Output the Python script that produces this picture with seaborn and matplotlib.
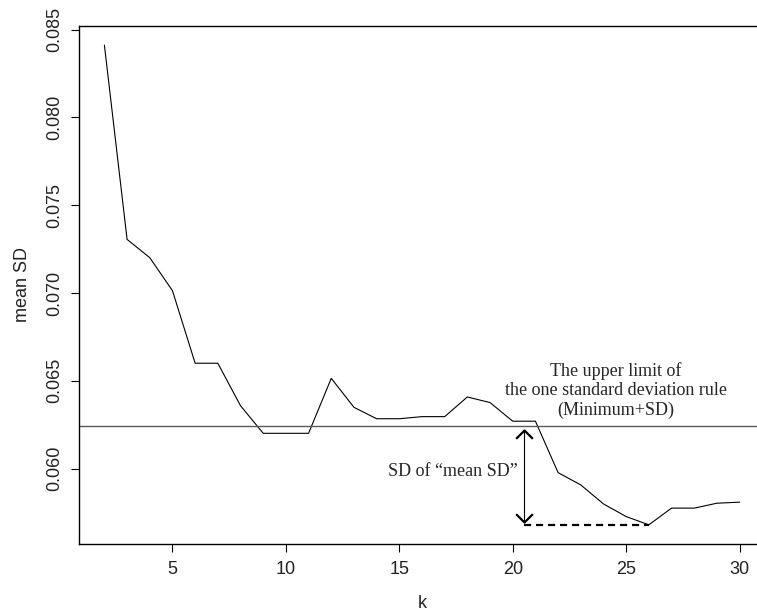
import numpy as np
import pandas as pd
import matplotlib
matplotlib.use("Agg")
import matplotlib.pyplot as plt
import seaborn as sns
from matplotlib.path import Path

# ---- data ----
k_values = list(range(2, 31))
mean_sd = [0.08411, 0.07305, 0.07201, 0.07013, 0.06600, 0.06600, 0.06358,
           0.06201, 0.06201, 0.06201, 0.06514, 0.06349, 0.06284, 0.06284,
           0.06296, 0.06296, 0.06408, 0.06376, 0.06270, 0.06270, 0.05977,
           0.05907, 0.05799, 0.05727, 0.05680, 0.05775, 0.05775, 0.05803,
           0.05809]
upper_limit = 0.06243          # Minimum + SD
arrow_k = 20.5
arrow_bottom = 0.05698
arrow_top = 0.06220
x_ticks = [5, 10, 15, 20, 25, 30]
y_ticks = [0.060, 0.065, 0.070, 0.075, 0.080, 0.085]
limit_label = "The upper limit of\nthe one standard deviation rule\n(Minimum+SD)"
sd_label = "SD of \u201cmean SD\u201d"

df = pd.DataFrame({"k": k_values, "mean SD": mean_sd})

sns.set_style("ticks")
plt.rcParams["font.family"] = ["Liberation Sans", "DejaVu Sans"]

W, H = 757, 612
fig = plt.figure(figsize=(W / 100, H / 100), dpi=100)
ax = fig.add_axes([79 / W, 1 - 544 / H, 686 / W, 518 / H])

sns.lineplot(data=df, x="k", y="mean SD", ax=ax, color="black", linewidth=0.8)

ax.axhline(upper_limit, color="#5a5a5a", linewidth=1.0)

# dashed line at the minimum
kmin = k_values[int(np.argmin(mean_sd))]
ymin = min(mean_sd)
ax.plot([arrow_k, kmin], [ymin, ymin], color="black", linewidth=1.6,
        linestyle=(0, (3.2, 2.2)))

# double-headed arrow: thin shaft, thick open heads
ax.plot([arrow_k, arrow_k], [arrow_bottom, arrow_top], color="black", linewidth=0.8)
vhead = Path([(-1, -1), (0, 0), (1, -1)], [Path.MOVETO, Path.LINETO, Path.LINETO])
vhead_down = Path([(-1, 1), (0, 0), (1, 1)], [Path.MOVETO, Path.LINETO, Path.LINETO])
ax.plot([arrow_k], [arrow_top], marker=vhead, markersize=12, markerfacecolor="none",
        markeredgecolor="black", markeredgewidth=1.6, linestyle="none")
ax.plot([arrow_k], [arrow_bottom], marker=vhead_down, markersize=12, markerfacecolor="none",
        markeredgecolor="black", markeredgewidth=1.6, linestyle="none")

serif = ["Liberation Serif", "DejaVu Serif"]
ax.text(24.55, 0.06444, limit_label, ha="center", va="center", fontsize=13,
        family=serif, linespacing=1.15)
ax.text(17.37, 0.05983, sd_label, ha="center", va="center", fontsize=13, family=serif)

# axes
ax.set_xlim(0.88, 31.12)
yr = max(mean_sd) - min(mean_sd)
ax.set_ylim(min(mean_sd) - 0.04 * yr, max(mean_sd) + 0.04 * yr)
ax.set_xticks(x_ticks)
ax.set_xticklabels([str(t) for t in x_ticks])
ax.set_yticks(y_ticks)
ax.set_yticklabels([f"{t:.3f}" for t in y_ticks])
ax.tick_params(axis="both", direction="out", length=5.8, width=0.8, labelsize=13,
               color="black", labelcolor="#222222")
ax.tick_params(axis="x", pad=6.5)
ax.tick_params(axis="y", pad=5.5, labelrotation=90)
for lab in ax.get_yticklabels():
    lab.set_va("center")

for s in ["left", "bottom", "top"]:
    ax.spines[s].set_visible(True)
    ax.spines[s].set_linewidth(1.0)
    ax.spines[s].set_color("black")
ax.spines["right"].set_visible(False)

ax.set_xlabel("k", fontsize=13, color="#222222")
ax.set_ylabel("mean SD", fontsize=13, color="#222222")
ax.xaxis.set_label_coords(0.5, -59 / 518)
ax.xaxis.label.set_va("center")
ax.yaxis.set_label_coords(-56 / 686, 0.5)
ax.yaxis.label.set_va("center")
ax.grid(False)

fig.savefig("out.png", dpi=100)
